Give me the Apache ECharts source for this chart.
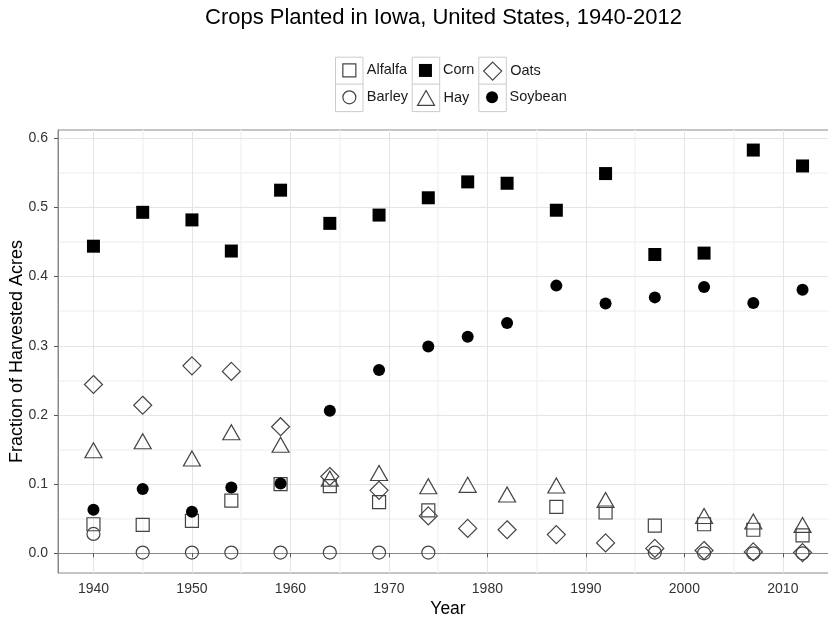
<!DOCTYPE html>
<html>
<head>
<meta charset="utf-8">
<script src="https://cdn.jsdelivr.net/npm/echarts@6/dist/echarts.min.js"></script>
<style>
  html, body { margin: 0; padding: 0; background: #fff; }
  #chart { width: 828px; height: 619px; }
</style>
</head>
<body>
<div id="chart"></div>
<script>
// census years and fraction of harvested acres per crop
var years = [1940, 1945, 1950, 1954, 1959, 1964, 1969, 1974, 1978, 1982, 1987, 1992, 1997, 2002, 2007, 2012];
var alfalfa = [0.042, 0.041, 0.047, 0.076, 0.100, 0.097, 0.074, 0.062, null, null, 0.067, 0.059, 0.040, 0.042, 0.034, 0.026];
var barley  = [0.028, 0.001, 0.001, 0.001, 0.001, 0.001, 0.001, 0.001, null, null, null, null, 0.001, 0.000, 0.000, 0.000];
var corn    = [0.444, 0.493, 0.482, 0.437, 0.525, 0.477, 0.489, 0.514, 0.537, 0.535, 0.496, 0.549, 0.432, 0.434, 0.583, 0.560];
var hay     = [0.149, 0.162, 0.137, 0.175, 0.157, 0.108, 0.116, 0.097, 0.099, 0.085, 0.098, 0.077, null, 0.054, 0.046, 0.041];
var oats    = [0.244, 0.214, 0.271, 0.263, 0.183, 0.111, 0.091, 0.054, 0.036, 0.034, 0.027, 0.015, 0.007, 0.004, 0.002, 0.001];
var soybean = [0.063, 0.093, 0.060, 0.095, 0.101, 0.206, 0.265, 0.299, 0.313, 0.333, 0.387, 0.361, 0.370, 0.385, 0.362, 0.381];

var xTicks = [1940, 1950, 1960, 1970, 1980, 1990, 2000, 2010];
var xMinor = [1945, 1955, 1965, 1975, 1985, 1995, 2005];
var yTicks = [0, 0.1, 0.2, 0.3, 0.4, 0.5, 0.6];
var yMinor = [0.05, 0.15, 0.25, 0.35, 0.45, 0.55];

var FONT = '"Liberation Sans", Arial, sans-serif';
var STROKE = '#444';

// name, symbol, size, filled
var crops = [
    {name: 'Alfalfa', data: alfalfa, symbol: 'rect',     size: 13,       filled: false},
    {name: 'Barley',  data: barley,  symbol: 'circle',   size: 13,       filled: false},
    {name: 'Corn',    data: corn,    symbol: 'rect',     size: 13,       filled: true},
    {name: 'Hay',     data: hay,     symbol: 'triangle', size: [17, 15], filled: false},
    {name: 'Oats',    data: oats,    symbol: 'diamond',  size: 18,       filled: false},
    {name: 'Soybean', data: soybean, symbol: 'circle',   size: 12,       filled: true}
];

function pairs(vals) {
    var out = [];
    for (var i = 0; i < years.length; i++) {
        if (vals[i] !== null) out.push([years[i], vals[i]]);
    }
    return out;
}

var gridLines = [];
xMinor.forEach(function (v) { gridLines.push({xAxis: v, lineStyle: {color: '#f3f3f3', width: 1.5, type: 'solid'}}); });
yMinor.forEach(function (v) { gridLines.push({yAxis: v, lineStyle: {color: '#f3f3f3', width: 1.5, type: 'solid'}}); });
xTicks.forEach(function (v) { gridLines.push({xAxis: v, lineStyle: {color: '#e5e5e5', width: 1, type: 'solid'}}); });
yTicks.forEach(function (v) { gridLines.push({yAxis: v, lineStyle: {color: '#e5e5e5', width: 1, type: 'solid'}}); });

var series = [{
    type: 'scatter',
    data: [],
    z: 0,
    silent: true,
    markLine: {
        z: 0,
        silent: true,
        symbol: 'none',
        animation: false,
        label: {show: false},
        emphasis: {disabled: true},
        data: gridLines
    }
}];

// legend keys laid out in columns like the original (two rows)
var keyLeft = [335, 411.7, 478.3];
var keyTop = [56.7, 83.6];
var KEY = 27.5;
var legends = [];
var keyBoxes = [];

crops.forEach(function (c, i) {
    series.push({
        name: c.name,
        type: 'scatter',
        z: 3,
        symbol: c.symbol,
        symbolSize: c.size,
        itemStyle: c.filled
            ? {color: '#000', borderWidth: 0, opacity: 1}
            : {color: 'rgba(0,0,0,0)', borderColor: STROKE, borderWidth: 1.2, opacity: 1},
        emphasis: {disabled: true},
        data: pairs(c.data)
    });

    var col = Math.floor(i / 2), row = i % 2;
    var w = Array.isArray(c.size) ? c.size[0] : c.size;
    var h = Array.isArray(c.size) ? c.size[1] : c.size;
    var cx = keyLeft[col] + KEY / 2, cy = keyTop[row] + KEY / 2;
    var th = Math.max(h, 15);
    legends.push({
        data: [c.name],
        left: cx - w / 2,
        top: cy - th / 2,
        padding: 0,
        itemWidth: w,
        itemHeight: h,
        selectedMode: false,
        itemStyle: {borderWidth: c.filled ? 0 : 1.2, opacity: 1},
        textStyle: {fontFamily: FONT, fontSize: 14.5, color: '#1a1a1a', padding: [0, 0, 0, 12.5 - w / 2]}
    });
    keyBoxes.push({
        type: 'rect',
        left: keyLeft[col],
        top: keyTop[row],
        z: -1,
        shape: {width: KEY, height: KEY},
        style: {fill: '#fff', stroke: '#cccccc', lineWidth: 1}
    });
});

var chart = echarts.init(document.getElementById('chart'));
chart.setOption({
    animation: false,
    backgroundColor: '#fff',
    title: {
        text: 'Crops Planted in Iowa, United States, 1940-2012',
        left: 205,
        top: 7,
        padding: 0,
        textStyle: {fontFamily: FONT, fontSize: 22, fontWeight: 'normal', color: '#000'}
    },
    legend: legends,
    graphic: keyBoxes,
    grid: {
        left: 58, right: -10, top: 130, bottom: 46,
        outerBoundsMode: 'none',
        containLabel: false,
        show: true, borderColor: '#8a8a8a', borderWidth: 1
    },
    xAxis: {
        type: 'value',
        min: 1936.4,
        max: 2015.6,
        name: 'Year',
        nameLocation: 'middle',
        nameGap: 27,
        nameMoveOverlap: false,
        nameTextStyle: {fontFamily: FONT, fontSize: 17.5, color: '#000'},
        axisLine: {show: true, lineStyle: {color: '#8a8a8a'}},
        axisTick: {show: true, length: 4, customValues: xTicks, lineStyle: {color: '#555'}},
        axisLabel: {
            customValues: xTicks, margin: 9, fontFamily: FONT, fontSize: 14, color: '#333',
            formatter: function (v) { return String(v); }
        },
        splitLine: {show: false}
    },
    yAxis: {
        type: 'value',
        min: -0.0285,
        max: 0.612,
        name: 'Fraction of Harvested Acres',
        nameLocation: 'middle',
        nameGap: 32,
        nameMoveOverlap: false,
        nameTextStyle: {fontFamily: FONT, fontSize: 18, color: '#000'},
        axisLine: {show: true, lineStyle: {color: '#8a8a8a'}},
        axisTick: {show: true, length: 4, customValues: yTicks, lineStyle: {color: '#555'}},
        axisLabel: {
            customValues: yTicks, margin: 10, fontFamily: FONT, fontSize: 14, color: '#333',
            formatter: function (v) { return v.toFixed(1); }
        },
        splitLine: {show: false}
    },
    series: series
});
</script>
</body>
</html>
